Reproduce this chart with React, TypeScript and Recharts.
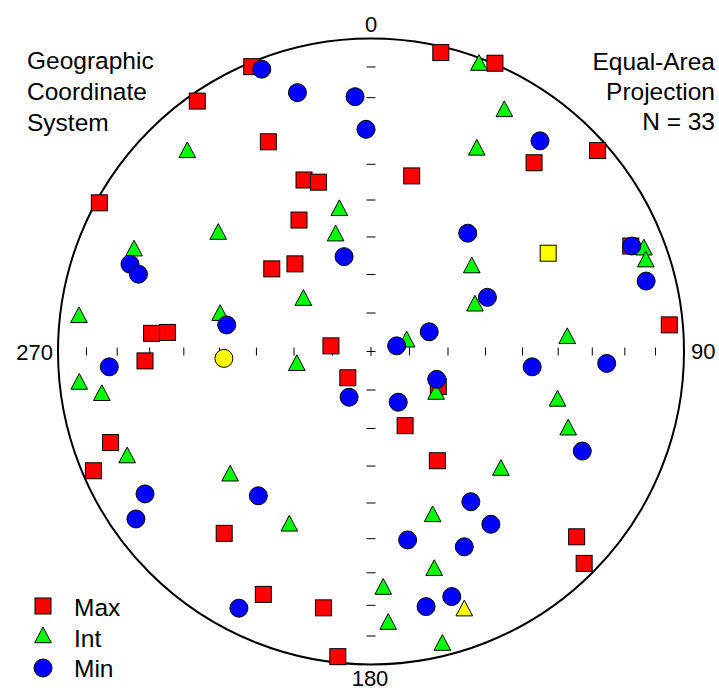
import React from "react";
import {
  ScatterChart,
  Scatter,
  XAxis,
  YAxis,
  ReferenceDot,
  Customized,
} from "recharts";

// Points in the unit circle of the net: x = east, y = north
const MAX_X = [
  -0.381, -0.555, -0.328, -0.214, -0.168, -0.868, -0.23, -0.243, -0.317, -0.701, -0.65,
  -0.128, -0.722, 0.223, 0.396, 0.724, 0.521, 0.13, 0.83, 0.953, -0.074, -0.832, -0.887,
  -0.469, -0.344, -0.152, -0.106, 0.215, 0.109, 0.212, 0.657, 0.681,
];
const MAX_Y = [
  0.91, 0.8, 0.67, 0.548, 0.541, 0.475, 0.42, 0.28, 0.264, 0.058, 0.061, 0.018, -0.03,
  0.955, 0.921, 0.642, 0.603, 0.561, 0.337, 0.085, -0.084, -0.291, -0.381, -0.581,
  -0.776, -0.819, -0.975, -0.112, -0.237, -0.349, -0.592, -0.677,
];

const INT_X = [
  -0.587, -0.101, -0.113, -0.488, -0.757, -0.216, -0.933, -0.482, -0.237, 0.345, 0.426,
  0.338, 0.872, 0.878, 0.322, 0.332, 0.627, 0.114, -0.932, -0.86, -0.779, -0.45, -0.261,
  0.208, 0.596, 0.63, 0.415, 0.197, 0.202, 0.039, 0.055, 0.228,
];
const INT_Y = [
  0.644, 0.459, 0.378, 0.383, 0.33, 0.172, 0.117, 0.124, -0.036, 0.923, 0.775, 0.652,
  0.333, 0.295, 0.276, 0.154, 0.05, 0.039, -0.096, -0.132, -0.331, -0.389, -0.549,
  -0.128, -0.15, -0.242, -0.371, -0.519, -0.691, -0.751, -0.863, -0.93,
];

const MIN_X = [
  -0.349, -0.235, -0.051, -0.016, -0.77, -0.743, -0.086, -0.461, -0.836, 0.54, 0.309,
  0.833, 0.879, 0.372, 0.186, 0.082, -0.07, -0.722, -0.751, -0.36, -0.422, 0.515, 0.753,
  0.21, 0.087, 0.675, 0.319, 0.383, 0.117, 0.298, 0.258, 0.176,
];
const MIN_Y = [
  0.902, 0.827, 0.814, 0.71, 0.279, 0.247, 0.303, 0.085, -0.049, 0.673, 0.378, 0.337,
  0.225, 0.173, 0.063, 0.018, -0.146, -0.455, -0.535, -0.461, -0.82, -0.049, -0.038,
  -0.089, -0.162, -0.318, -0.48, -0.552, -0.602, -0.624, -0.783, -0.815,
];

// Mean axes (yellow)
const MEAN_MAX = [{ x: 0.566, y: 0.314 }];
const MEAN_INT = [{ x: 0.298, y: -0.82 }];
const MEAN_MIN = [{ x: -0.47, y: -0.022 }];

// Equal-area radii of 10..80 degree plunge marks
const TICK_R = [0.123, 0.246, 0.366, 0.484, 0.598, 0.707, 0.811, 0.909];

const zip = (xs: number[], ys: number[]) => xs.map((x, i) => ({ x, y: ys[i] }));

const maxData = zip(MAX_X, MAX_Y);
const intData = zip(INT_X, INT_Y);
const minData = zip(MIN_X, MIN_Y);

const ewTicks = TICK_R.flatMap((r) => [{ x: r, y: 0 }, { x: -r, y: 0 }]);
const nsTicks = TICK_R.flatMap((r) => [{ x: 0, y: r }, { x: 0, y: -r }]);

const W = 719;
const H = 690;
const R = 313;
const CX = 371;
const CY = 351.5;
const FONT = "'Liberation Sans', Arial, sans-serif";

const Square = (fill: string) => (p: any) => (
  <rect x={p.cx - 8} y={p.cy - 8} width={16} height={16} fill={fill} stroke="#000" strokeWidth={1} />
);
const Triangle = (fill: string) => (p: any) => (
  <polygon
    points={`${p.cx},${p.cy - 8} ${p.cx - 8.3},${p.cy + 7.7} ${p.cx + 8.3},${p.cy + 7.7}`}
    fill={fill}
    stroke="#000"
    strokeWidth={1}
  />
);
const Circle = (fill: string) => (p: any) => (
  <circle cx={p.cx} cy={p.cy} r={9} fill={fill} stroke="#000" strokeWidth={1} />
);
const VTick = (p: any) => <line x1={p.cx} x2={p.cx} y1={p.cy - 4} y2={p.cy + 4} stroke="#000" strokeWidth={1} />;
const HTick = (p: any) => <line x1={p.cx - 4.5} x2={p.cx + 4.5} y1={p.cy} y2={p.cy} stroke="#000" strokeWidth={1} />;
const Cross = (p: any) => (
  <g stroke="#000" strokeWidth={1}>
    <line x1={p.cx - 4.5} x2={p.cx + 4.5} y1={p.cy} y2={p.cy} />
    <line x1={p.cx} x2={p.cx} y1={p.cy - 4.5} y2={p.cy + 4.5} />
  </g>
);

function Labels() {
  const t = { fontFamily: FONT, fontSize: 24.5, fill: "#000" };
  const a = { fontFamily: FONT, fontSize: 22, fill: "#000" };
  return (
    <g>
      <text {...t} x={27} y={69}>Geographic</text>
      <text {...t} x={27} y={100}>Coordinate</text>
      <text {...t} x={27} y={131}>System</text>
      <text {...t} x={715} y={70} textAnchor="end">Equal-Area</text>
      <text {...t} x={715} y={100} textAnchor="end">Projection</text>
      <text {...t} x={715} y={130} textAnchor="end">N = 33</text>

      <text {...a} x={371} y={32} textAnchor="middle">0</text>
      <text {...a} x={370} y={686} textAnchor="middle">180</text>
      <text {...a} x={53} y={360} textAnchor="end">270</text>
      <text {...a} x={691} y={359}>90</text>

      <rect x={35} y={598} width={16} height={16} fill="#ff0000" stroke="#000" />
      <polygon points="43,627 34.7,642.7 51.3,642.7" fill="#00ff00" stroke="#000" />
      <circle cx={43} cy={668} r={9} fill="#0000ff" stroke="#000" />
      <text {...t} x={74} y={616}>Max</text>
      <text {...t} x={74} y={647}>Int</text>
      <text {...t} x={74} y={677}>Min</text>
    </g>
  );
}

export default function App() {
  return (
    <div style={{ position: "absolute", left: 0, top: 0, background: "#fff" }}>
      <ScatterChart
        width={W}
        height={H}
        margin={{ top: CY - R, bottom: H - CY - R, left: CX - R, right: W - CX - R }}
      >
        <XAxis type="number" dataKey="x" domain={[-1, 1]} hide />
        <YAxis type="number" dataKey="y" domain={[-1, 1]} hide />
        <ReferenceDot x={0} y={0} r={R} fill="none" stroke="#000" strokeWidth={2} />
        <Scatter data={ewTicks} shape={VTick} isAnimationActive={false} />
        <Scatter data={nsTicks} shape={HTick} isAnimationActive={false} />
        <Scatter data={[{ x: 0, y: 0 }]} shape={Cross} isAnimationActive={false} />
        <Scatter data={maxData} shape={Square("#ff0000")} isAnimationActive={false} />
        <Scatter data={intData} shape={Triangle("#00ff00")} isAnimationActive={false} />
        <Scatter data={minData} shape={Circle("#0000ff")} isAnimationActive={false} />
        <Scatter data={MEAN_MAX} shape={Square("#ffff00")} isAnimationActive={false} />
        <Scatter data={MEAN_INT} shape={Triangle("#ffff00")} isAnimationActive={false} />
        <Scatter data={MEAN_MIN} shape={Circle("#ffff00")} isAnimationActive={false} />
        <Customized component={Labels} />
      </ScatterChart>
    </div>
  );
}
